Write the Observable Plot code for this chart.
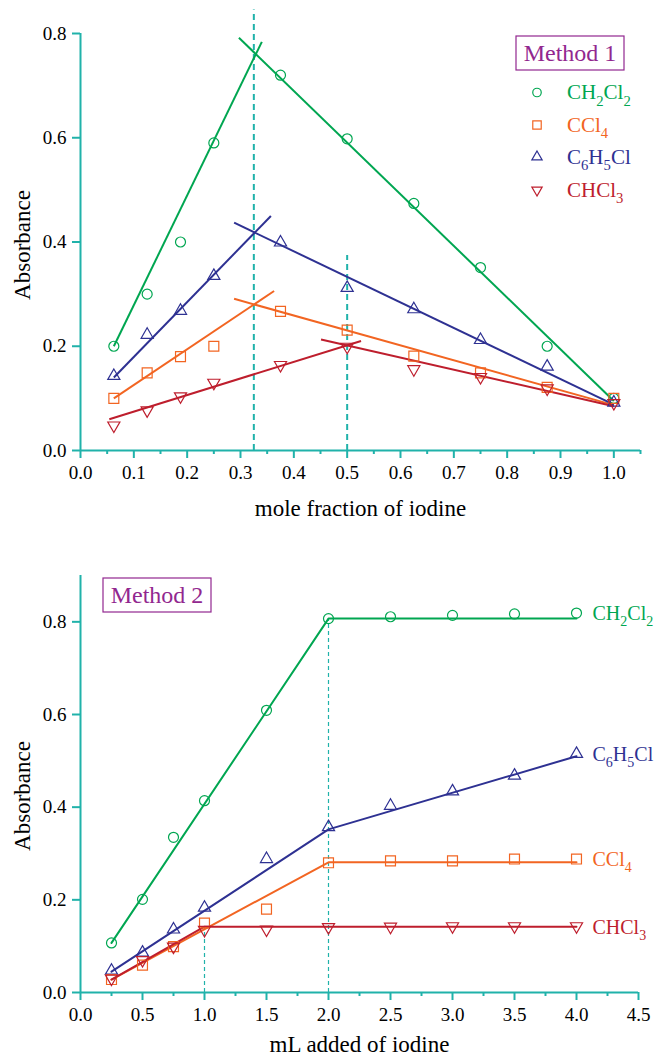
<!DOCTYPE html>
<html><head><meta charset="utf-8">
<script src="https://cdn.jsdelivr.net/npm/d3@7"></script>
<script src="https://cdn.jsdelivr.net/npm/@observablehq/plot@0.6"></script>
<style>
body{margin:0;background:#fff;}
#c{width:657px;}
svg{display:block;}
svg text, svg tspan{font-family:"Liberation Serif","Times New Roman",serif !important;}
</style></head><body><div id="c"></div>
<script>
// ---------- colours ----------
const TEAL = "#20b2aa", GREEN = "#00a651", ORANGE = "#f26522", BLUE = "#2e3192", RED = "#be1e2d", PURPLE = "#92278f";
const FONT = "Liberation Serif, Times New Roman, serif";

// ---------- Method 1 data ----------
const m1X = [0.0625, 0.125, 0.1875, 0.25, 0.375, 0.5, 0.625, 0.75, 0.875, 1.0];
const m1CH2Cl2 = [0.200, 0.300, 0.400, 0.590, 0.720, 0.598, 0.474, 0.351, 0.200, 0.100];
const m1CCl4   = [0.100, 0.149, 0.180, 0.200, 0.267, 0.231, 0.181, 0.149, 0.121, 0.100];
const m1C6H5Cl = [0.143, 0.222, 0.268, 0.335, 0.399, 0.312, 0.271, 0.212, 0.161, 0.092];
const m1CHCl3  = [0.048, 0.077, 0.104, 0.130, 0.164, 0.199, 0.156, 0.141, 0.119, 0.091];
// fitted straight lines [x1, y1, x2, y2]
const m1FitCH2Cl2 = [[0.0625, 0.200, 0.340, 0.784], [0.297, 0.792, 1.0, 0.095]];
const m1FitCCl4   = [[0.0625, 0.100, 0.363, 0.306], [0.288, 0.291, 1.0, 0.087]];
const m1FitC6H5Cl = [[0.0625, 0.140, 0.357, 0.450], [0.288, 0.437, 1.0, 0.088]];
const m1FitCHCl3  = [[0.054, 0.060, 0.526, 0.210], [0.451, 0.213, 1.0, 0.085]];
// dashed guide lines [x, top]
const m1Guides = [[0.325, 0.845], [0.5, 0.374]];
const m1XTicks = [0, 0.1, 0.2, 0.3, 0.4, 0.5, 0.6, 0.7, 0.8, 0.9, 1.0];
const m1XMinor = [0.05, 0.15, 0.25, 0.35, 0.45, 0.55, 0.65, 0.75, 0.85, 0.95, 1.05];
const m1YTicks = [0, 0.2, 0.4, 0.6, 0.8];

// ---------- Method 2 data ----------
const m2X = [0.25, 0.5, 0.75, 1.0, 1.5, 2.0, 2.5, 3.0, 3.5, 4.0];
const m2CH2Cl2 = [0.107, 0.201, 0.335, 0.414, 0.609, 0.807, 0.811, 0.814, 0.817, 0.819];
const m2C6H5Cl = [0.047, 0.086, 0.136, 0.183, 0.288, 0.357, 0.403, 0.434, 0.468, 0.515];
const m2CCl4   = [0.028, 0.059, 0.099, 0.150, 0.180, 0.280, 0.284, 0.284, 0.288, 0.288];
const m2CHCl3  = [0.030, 0.070, 0.099, 0.135, 0.136, 0.141, 0.142, 0.143, 0.143, 0.143];
// fitted polylines [x, y]
const m2FitCH2Cl2 = [[0.25, 0.107], [2.0, 0.807], [4.0, 0.807]];
const m2FitC6H5Cl = [[0.25, 0.045], [2.0, 0.352], [4.0, 0.510]];
const m2FitCCl4   = [[0.25, 0.028], [2.0, 0.281], [4.0, 0.281]];
const m2FitCHCl3  = [[0.25, 0.028], [1.0, 0.142], [4.0, 0.142]];
const m2Guides = [[1.0, 0.142], [2.0, 0.807]];
const m2XTicks = [0, 0.5, 1.0, 1.5, 2.0, 2.5, 3.0, 3.5, 4.0, 4.5];
const m2XMinor = [0.25, 0.75, 1.25, 1.75, 2.25, 2.75, 3.25, 3.75, 4.25];
const m2YTicks = [0, 0.2, 0.4, 0.6, 0.8];

// ---------- series definitions ----------
const series1 = [
  {name: "CH_2Cl_2", color: GREEN,  symbol: "circle",   r: 5,   rotate: 0,   y: m1CH2Cl2, fit: m1FitCH2Cl2},
  {name: "CCl_4",    color: ORANGE, symbol: "square",   r: 5.6, rotate: 0,   y: m1CCl4,   fit: m1FitCCl4},
  {name: "C_6H_5Cl", color: BLUE,   symbol: "triangle", r: 4.5, rotate: 0,   y: m1C6H5Cl, fit: m1FitC6H5Cl},
  {name: "CHCl_3",   color: RED,    symbol: "triangle", r: 4.5, rotate: 180, y: m1CHCl3,  fit: m1FitCHCl3}
];
const series2 = [
  {name: "CH_2Cl_2", color: GREEN,  symbol: "circle",   r: 5,   rotate: 0,   y: m2CH2Cl2, fit: m2FitCH2Cl2},
  {name: "C_6H_5Cl", color: BLUE,   symbol: "triangle", r: 4.5, rotate: 0,   y: m2C6H5Cl, fit: m2FitC6H5Cl},
  {name: "CCl_4",    color: ORANGE, symbol: "square",   r: 5.6, rotate: 0,   y: m2CCl4,   fit: m2FitCCl4},
  {name: "CHCl_3",   color: RED,    symbol: "triangle", r: 4.5, rotate: 180, y: m2CHCl3,  fit: m2FitCHCl3}
];

function dotMarks(xs, series) {
  return series.map(s => Plot.dot(xs.map((x, i) => ({x, y: s.y[i]})), {
    x: "x", y: "y", r: s.r, symbol: s.symbol, rotate: s.rotate,
    stroke: s.color, strokeWidth: 1.2, fill: "none"
  }));
}

function axisMarks(xTicks, xMinor, yTicks, xMax, yMax) {
  return [
    Plot.ruleY([0], {x1: 0, x2: xMax, stroke: TEAL, strokeWidth: 2}),
    Plot.ruleX([0], {y1: 0, y2: yMax, stroke: TEAL, strokeWidth: 2}),
    Plot.axisX(xTicks, {tickSize: 8, tickPadding: 7, tickFormat: d3.format(".1f"), stroke: TEAL, strokeWidth: 2,
      fill: "black", fontSize: 19, fontFamily: FONT, label: null}),
    Plot.axisX(xMinor, {tickSize: 4, tickFormat: () => "", stroke: TEAL, strokeWidth: 2, label: null}),
    Plot.axisY(yTicks, {tickSize: 8, tickPadding: 6, tickFormat: d3.format(".1f"), stroke: TEAL, strokeWidth: 2,
      fill: "black", fontSize: 19, fontFamily: FONT, label: null})
  ];
}

function subscriptify(svg, base) {
  d3.select(svg).selectAll("text").each(function () {
    const t = this.textContent;
    if (!t.includes("_")) return;
    const el = d3.select(this);
    el.text(null);
    const parts = t.split(/_(\d)/);
    let shifted = false;
    parts.forEach((p, i) => {
      if (p === "") return;
      if (i % 2 === 1) {
        el.append("tspan").attr("dy", 0.3 * base).attr("font-size", 0.7 * base).text(p);
        shifted = true;
      } else {
        const ts = el.append("tspan").text(p);
        if (shifted) { ts.attr("dy", -0.3 * base); shifted = false; }
      }
    });
  });
}

// ---------- Chart 1 ----------
const chart1 = Plot.plot({
  width: 657, height: 530,
  marginTop: 33, marginBottom: 80, marginLeft: 80, marginRight: 17,
  x: {domain: [0, 1.05]},
  y: {domain: [0, 0.8]},
  style: {fontFamily: FONT, background: "white", color: "black"},
  marks: [
    Plot.ruleX(m1Guides, {x: d => d[0], y1: 0, y2: d => d[1], stroke: TEAL, strokeWidth: 2, strokeDasharray: "6,4"}),
    ...series1.map(s => Plot.link(s.fit, {x1: d => d[0], y1: d => d[1], x2: d => d[2], y2: d => d[3], stroke: s.color, strokeWidth: 2})),
    ...dotMarks(m1X, series1),
    ...axisMarks(m1XTicks, m1XMinor, m1YTicks, 1.05, 0.8),
    Plot.text(["mole fraction of iodine"], {frameAnchor: "bottom", lineAnchor: "middle", textAnchor: "middle",
      dy: 58, fontSize: 23, fontFamily: FONT, fill: "black"}),
    Plot.text(["Absorbance"], {frameAnchor: "left", lineAnchor: "middle", textAnchor: "middle",
      dx: -58, dy: 3, rotate: -90, fontSize: 23, fontFamily: FONT, fill: "black"})
  ]
});

// legend (Method 1)
{
  const g = d3.select(chart1).append("g").attr("font-family", FONT).attr("text-anchor", "start");
  g.append("rect").attr("x", 516).attr("y", 36).attr("width", 108).attr("height", 34)
    .attr("fill", "white").attr("stroke", PURPLE).attr("stroke-width", 1.2);
  g.append("text").attr("x", 570).attr("y", 53).attr("dy", "0.35em").attr("text-anchor", "middle")
    .attr("font-size", 24).attr("fill", PURPLE).text("Method 1");
  const symMap = {circle: d3.symbolCircle, square: d3.symbolSquare, triangle: d3.symbolTriangle};
  series1.forEach((s, i) => {
    const yy = [92.5, 125, 157, 190][i];
    g.append("path").attr("d", d3.symbol(symMap[s.symbol], Math.PI * (s.r * 0.85) ** 2)())
      .attr("transform", `translate(537,${yy}) rotate(${s.rotate})`)
      .attr("fill", "none").attr("stroke", s.color).attr("stroke-width", 1.2);
    g.append("text").attr("x", 567).attr("y", yy).attr("dy", "0.32em").attr("font-size", 21)
      .attr("text-anchor", "start").attr("fill", s.color).text(s.name);
  });
}
subscriptify(chart1, 21);

// ---------- Chart 2 ----------
const chart2 = Plot.plot({
  width: 657, height: 529,
  marginTop: 45, marginBottom: 67, marginLeft: 80, marginRight: 19,
  x: {domain: [0, 4.5]},
  y: {domain: [0, 0.9]},
  style: {fontFamily: FONT, background: "white", color: "black"},
  marks: [
    Plot.ruleX(m2Guides, {x: d => d[0], y1: 0, y2: d => d[1], stroke: TEAL, strokeWidth: 1.2, strokeDasharray: "4,3"}),
    ...series2.map(s => Plot.line(s.fit, {x: d => d[0], y: d => d[1], stroke: s.color, strokeWidth: 2})),
    ...dotMarks(m2X, series2),
    ...series2.map(s => Plot.text([s], {x: () => m2X[m2X.length - 1], y: d => d.y[d.y.length - 1], text: d => d.name,
      dx: 16, dy: 1, textAnchor: "start", fill: s.color, fontSize: 20, fontFamily: FONT})),
    ...axisMarks(m2XTicks, m2XMinor, m2YTicks, 4.5, 0.9),
    Plot.text(["mL added of iodine"], {frameAnchor: "bottom", lineAnchor: "middle", textAnchor: "middle",
      dy: 52, fontSize: 23, fontFamily: FONT, fill: "black"}),
    Plot.text(["Absorbance"], {frameAnchor: "left", lineAnchor: "middle", textAnchor: "middle",
      dx: -58, dy: 12, rotate: -90, fontSize: 23, fontFamily: FONT, fill: "black"})
  ]
});
{
  const g = d3.select(chart2).append("g").attr("font-family", FONT);
  g.append("rect").attr("x", 103).attr("y", 48).attr("width", 108).attr("height", 34)
    .attr("fill", "white").attr("stroke", PURPLE).attr("stroke-width", 1.2);
  g.append("text").attr("x", 157).attr("y", 65).attr("dy", "0.35em").attr("text-anchor", "middle")
    .attr("font-size", 24).attr("fill", PURPLE).text("Method 2");
}
subscriptify(chart2, 20);

document.getElementById("c").append(chart1, chart2);
</script>
</body></html>
